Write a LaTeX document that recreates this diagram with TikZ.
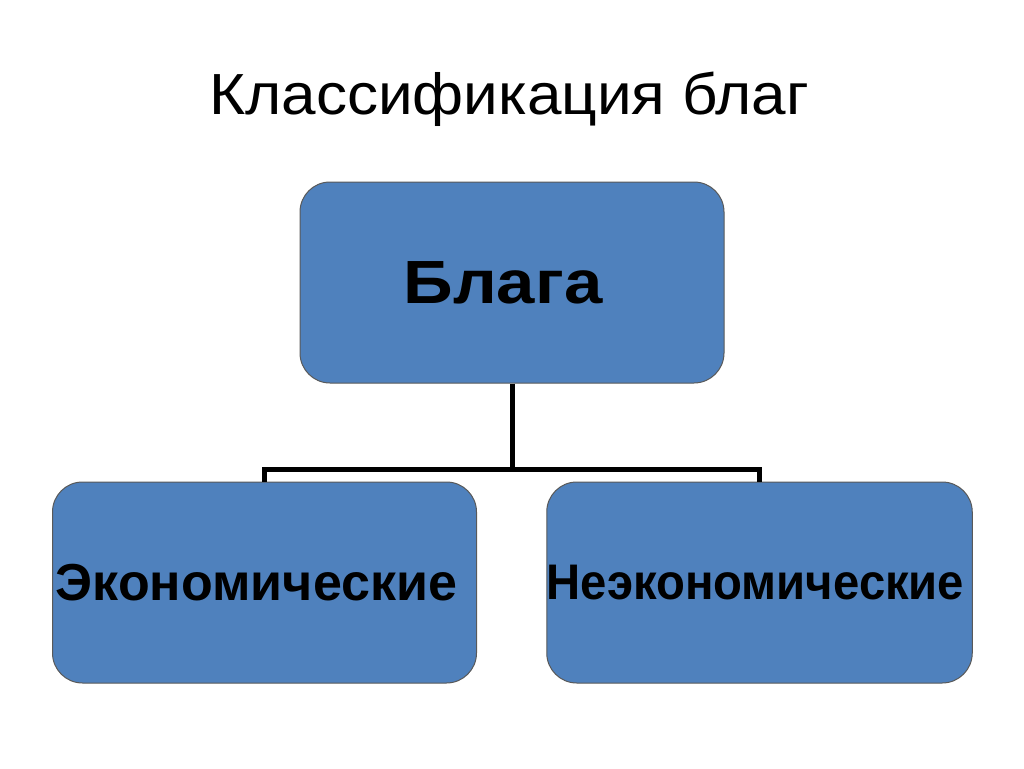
\documentclass[tikz,border=0pt]{standalone}
\usepackage{fontspec}
\setmainfont{Liberation Sans}
\begin{document}
\begin{tikzpicture}[x=1pt,y=-1pt,
  box/.style={draw=black!65, line width=1pt, fill=boxblue, rounded corners=30pt,
    minimum width=424pt, minimum height=201pt, inner sep=0pt, font=\bfseries},
  link/.style={line width=5pt, draw=black}]
\definecolor{boxblue}{HTML}{4F81BD}
\useasboundingbox[fill=white] (0,0) rectangle (1024,768);
\node[anchor=base, font=\fontsize{58}{60}\selectfont] (title) at (509,114) {\scalebox{1.07}[1]{Классификация благ}};
\node[box, font=\bfseries\fontsize{61}{64}\selectfont] (top) at (512,282.5) {\scalebox{1.13}[1]{Блага}\hspace*{18pt}};
\node[box, font=\bfseries\fontsize{52}{60}\selectfont] (left) at (264.5,582.5) {Экономические\hspace*{16pt}};
\node[box, font=\bfseries\fontsize{50}{60}\selectfont] (right) at (759.5,582.5) {\scalebox{0.945}[1]{Неэкономические}\hspace*{8pt}};
\coordinate (j) at (512,469);
\draw[link] (top.south) -- (j);
\draw[link] (j) -| (left.north);
\draw[link] (j) -| (right.north);
\end{tikzpicture}
\end{document}
